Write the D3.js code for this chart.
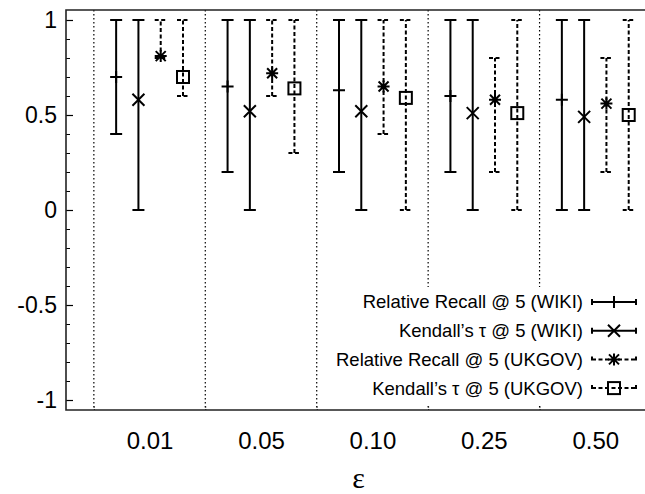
<!DOCTYPE html>
<html><head><meta charset="utf-8">
<script src="https://cdn.jsdelivr.net/npm/d3@7/dist/d3.min.js"></script>
<style>body{margin:0;background:#fff}svg{display:block}</style>
</head><body>
<svg id="c" width="645" height="494"></svg>
<script>
const categories = ["0.01","0.05","0.10","0.25","0.50"];
const seriesNames = ["Relative Recall @ 5 (WIKI)","Kendall\u2019s \u03c4 @ 5 (WIKI)","Relative Recall @ 5 (UKGOV)","Kendall\u2019s \u03c4 @ 5 (UKGOV)"];
const rrWikiMean = [0.70,0.65,0.63,0.60,0.58];
const rrWikiMin  = [0.40,0.20,0.20,0.20,0.00];
const rrWikiMax  = [1,1,1,1,1];
const ktWikiMean = [0.58,0.52,0.52,0.51,0.49];
const ktWikiMin  = [0,0,0,0,0];
const ktWikiMax  = [1,1,1,1,1];
const rrUkMean = [0.81,0.72,0.65,0.58,0.56];
const rrUkMin  = [0.80,0.60,0.40,0.20,0.20];
const rrUkMax  = [1,1,1,0.8,0.8];
const ktUkMean = [0.70,0.64,0.59,0.51,0.50];
const ktUkMin  = [0.60,0.30,0.00,0.00,0.00];
const ktUkMax  = [1,1,1,1,1];
const yTickValues = [-1,-0.5,0,0.5,1];
const yTickLabels = ["-1","-0.5","0","0.5","1"];
const xLabel = "\u03b5";

const series = [
  {name: seriesNames[0], mean: rrWikiMean, min: rrWikiMin, max: rrWikiMax, offset: -0.3, dashed: false, marker: "plus"},
  {name: seriesNames[1], mean: ktWikiMean, min: ktWikiMin, max: ktWikiMax, offset: -0.1, dashed: false, marker: "cross"},
  {name: seriesNames[2], mean: rrUkMean, min: rrUkMin, max: rrUkMax, offset: 0.1, dashed: true, marker: "star"},
  {name: seriesNames[3], mean: ktUkMean, min: ktUkMin, max: ktUkMax, offset: 0.3, dashed: true, marker: "square"}
];

const svg = d3.select("#c");
const x = d3.scaleLinear().domain([-0.75, 4.5]).range([66, 651]);
const y = d3.scaleLinear().domain([-1.0526, 1.0526]).range([410, 10]);
const font = "'Liberation Sans', Arial, Helvetica, sans-serif";

// vertical dotted separators
svg.append("g").selectAll("line").data(categories).join("line")
  .attr("x1", (d,i)=>x(i-0.5)).attr("x2", (d,i)=>x(i-0.5))
  .attr("y1", y.range()[1]).attr("y2", y.range()[0])
  .attr("stroke","#000").attr("stroke-width",1.2).attr("stroke-dasharray","1.5,2.5");

// y axis minor ticks
const minor = d3.range(-10, 11).map(v => v/10).filter(v => !yTickValues.some(t => Math.abs(t - v) < 1e-9));
svg.append("g").attr("transform","translate(66,0)")
  .call(d3.axisRight(y).tickValues(minor).tickSize(4).tickFormat(""))
  .call(g => g.select(".domain").remove())
  .selectAll("line").attr("stroke","#000").attr("stroke-width",1);
// y axis major
const yAx = svg.append("g").attr("transform","translate(66,0)")
  .call(d3.axisLeft(y).tickValues(yTickValues).tickSize(0).tickPadding(9)
    .tickFormat((d,i)=>yTickLabels[i]));
yAx.select(".domain").remove();
yAx.selectAll("text").attr("font-family", font).attr("font-size", 23).attr("fill","#000");
svg.append("g").attr("transform","translate(66,0)")
  .call(d3.axisRight(y).tickValues(yTickValues).tickSize(7).tickFormat(""))
  .call(g => g.select(".domain").remove())
  .selectAll("line").attr("stroke","#000").attr("stroke-width",1.2);

// x labels
const xAx = svg.append("g").attr("transform","translate(0,410)")
  .call(d3.axisBottom(x).tickValues(d3.range(categories.length)).tickSize(0).tickPadding(22)
    .tickFormat(i=>categories[i]));
xAx.select(".domain").remove();
xAx.selectAll("text").attr("font-family", font).attr("font-size", 24).attr("fill","#000");
// small ticks on bottom at separators
svg.append("g").attr("transform","translate(0,410)")
  .call(d3.axisTop(x).tickValues(d3.range(categories.length).map(i=>i-0.5)).tickSize(4).tickFormat(""))
  .call(g => g.select(".domain").remove())
  .selectAll("line").attr("stroke","#000").attr("stroke-width",1).attr("stroke-dasharray","1,1.5");

// frame
svg.append("path")
  .attr("d", `M${x(4.5)+5},${y.range()[1]}H${x.range()[0]}V${y.range()[0]}H${x(4.5)+5}`)
  .attr("fill","none").attr("stroke","#222").attr("stroke-width",1.6);

// marker drawing
function drawMarker(g, type, cx, cy) {
  const s = 6;
  const attrs = el => el.attr("stroke","#000").attr("stroke-width",2).attr("fill","none");
  if (type === "plus") {
    attrs(g.append("path").attr("d", `M${cx-s},${cy}H${cx+s}M${cx},${cy-s}V${cy+s}`));
  } else if (type === "cross") {
    attrs(g.append("path").attr("d", `M${cx-s},${cy-s}L${cx+s},${cy+s}M${cx-s},${cy+s}L${cx+s},${cy-s}`));
  } else if (type === "star") {
    attrs(g.append("path").attr("d", `M${cx-s},${cy}H${cx+s}M${cx},${cy-s}V${cy+s}M${cx-s+1},${cy-s+1}L${cx+s-1},${cy+s-1}M${cx-s+1},${cy+s-1}L${cx+s-1},${cy-s+1}`));
  } else if (type === "square") {
    attrs(g.append("rect").attr("x",cx-s).attr("y",cy-s).attr("width",2*s).attr("height",2*s).attr("fill","#fff"));
  }
}

const capW = 6;
series.forEach(s => {
  const g = svg.append("g");
  categories.forEach((c, i) => {
    const cx = x(i + s.offset);
    const dash = s.dashed ? "4,2.5" : null;
    g.append("path")
      .attr("d", `M${cx},${y(s.min[i])}V${y(s.max[i])}M${cx-capW},${y(s.max[i])}H${cx+capW}M${cx-capW},${y(s.min[i])}H${cx+capW}`)
      .attr("stroke","#000").attr("stroke-width",2).attr("fill","none")
      .attr("stroke-dasharray", dash);
    drawMarker(g, s.marker, cx, y(s.mean[i]));
  });
});

// legend
const leg = svg.append("g");
leg.append("rect").attr("x",330).attr("y",287).attr("width",320).attr("height",118).attr("fill","#fff");
series.forEach((s, k) => {
  const cy = 302 + k*28.7;
  leg.append("text").attr("x",583).attr("y",cy).attr("dy","0.35em")
    .attr("text-anchor","end").attr("font-family",font).attr("font-size",18.5).attr("fill","#000")
    .text(s.name);
  const x1 = 592, x2 = 636;
  leg.append("path")
    .attr("d", `M${x1},${cy}H${x2}M${x1},${cy-3}V${cy+3}M${x2},${cy-3}V${cy+3}`)
    .attr("stroke","#000").attr("stroke-width",2).attr("fill","none")
    .attr("stroke-dasharray", s.dashed ? "4,2.5" : null);
  drawMarker(leg, s.marker, (x1+x2)/2, cy);
});

// x axis title
svg.append("text").attr("x", (x.range()[0]+x.range()[1])/2).attr("y", 488)
  .attr("text-anchor","middle").attr("font-family","'Liberation Serif','DejaVu Serif',serif")
  .attr("font-size",30).attr("fill","#000").text(xLabel);
</script>
</body></html>
